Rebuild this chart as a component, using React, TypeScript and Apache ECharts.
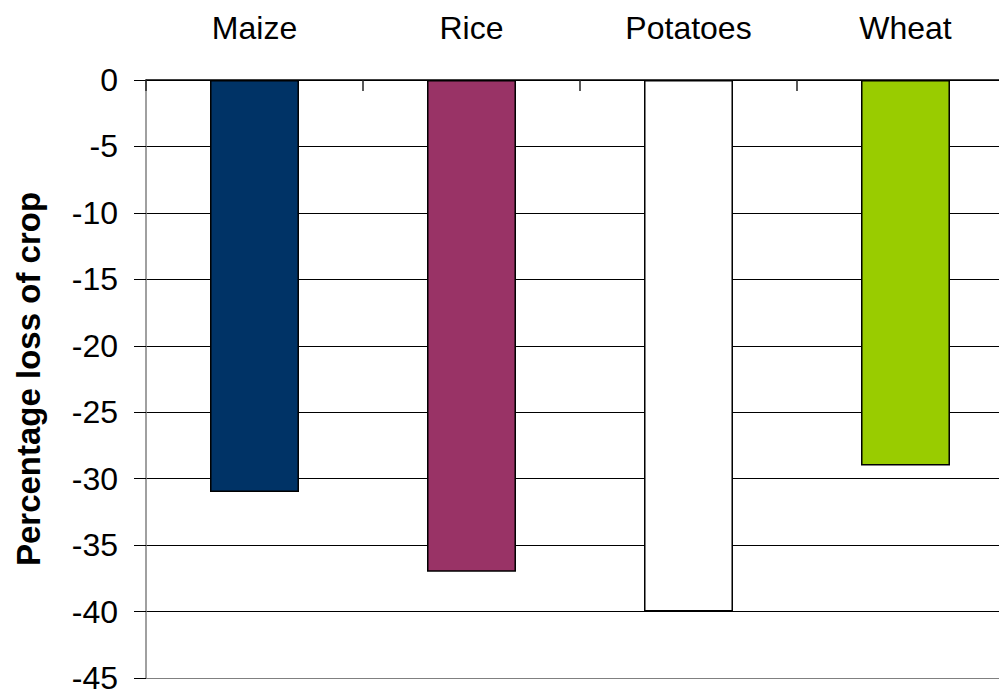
import React, { useEffect, useRef } from "react";
import * as echarts from "echarts";

const categories = ["Maize", "Rice", "Potatoes", "Wheat"];
const lossValues = [-31, -37, -40, -29];
const barColors = ["#003366", "#993366", "#FFFFFF", "#99CC00"];
const yAxisName = "Percentage loss of crop";

export default function App() {
  const ref = useRef<HTMLDivElement>(null);
  useEffect(() => {
    if (!ref.current) return;
    const chart = echarts.init(ref.current, null, { renderer: "svg" });
    const font = "'Liberation Sans', Arial, sans-serif";
    const splitColors = ["#808080", "#000", "#000", "#000", "#000", "#000", "#000", "#000", "#000", "#000"];
    chart.setOption({
      animation: false,
      backgroundColor: "#ffffff",
      grid: { left: 146, top: 80, bottom: 14, width: 868, containLabel: false },
      xAxis: {
        type: "category",
        data: categories,
        position: "top",
        axisLine: { onZero: false, lineStyle: { color: "#000", width: 1.5 } },
        axisTick: { show: true, inside: true, length: 11, lineStyle: { color: "#222", width: 1.5 } },
        axisLabel: { color: "#000", fontSize: 32, fontFamily: font, margin: 36 },
        splitLine: { show: false },
      },
      yAxis: {
        type: "value",
        min: -45,
        max: 0,
        interval: 5,
        name: yAxisName,
        nameLocation: "middle",
        nameGap: 101,
        nameTextStyle: { color: "#000", fontSize: 33, fontWeight: "bold", fontFamily: font },
        axisLine: { show: true, lineStyle: { color: "#808080", width: 1.5 } },
        axisTick: { show: true, inside: false, length: 12, lineStyle: { color: "#000", width: 1 } },
        axisLabel: { color: "#000", fontSize: 32, fontFamily: font, margin: 28 },
        splitLine: { show: true, lineStyle: { color: splitColors, width: 1 } },
      },
      series: [
        {
          type: "bar",
          barWidth: "41%",
          z: 1,
          data: lossValues.map((v, i) => ({
            value: v,
            itemStyle: { color: barColors[i], borderColor: "#000", borderWidth: 1.5 },
          })),
        },
      ],
    });
    return () => chart.dispose();
  }, []);
  return (
    <div style={{ position: "fixed", left: 0, top: 0, width: 999, height: 694, overflow: "hidden", background: "#fff" }}>
      <div ref={ref} style={{ width: 1020, height: 694 }} />
    </div>
  );
}
